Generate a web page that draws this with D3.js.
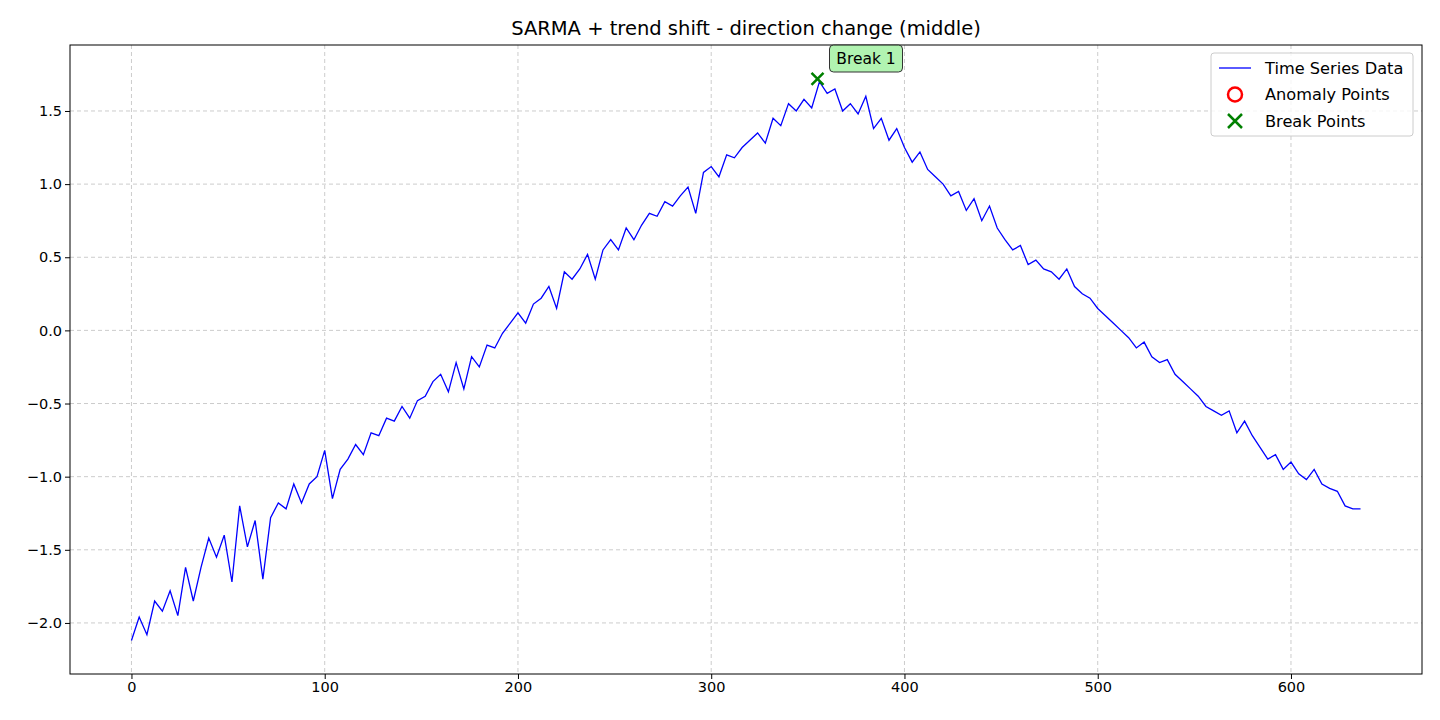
<!DOCTYPE html>
<html><head><meta charset="utf-8">
<script src="https://cdn.jsdelivr.net/npm/d3@7"></script>
<style>body{margin:0;background:#fff;font-family:"DejaVu Sans",sans-serif}</style>
</head><body><svg id="c" width="1440" height="720"></svg>
<script>
const step = 4;
const values = [-2.12,-1.96,-2.08,-1.85,-1.92,-1.78,-1.95,-1.62,-1.85,-1.62,-1.42,-1.55,-1.40,-1.72,-1.20,-1.48,
 -1.30,-1.70,-1.28,-1.18,-1.22,-1.05,-1.18,-1.05,-1.00,-0.82,-1.15,-0.95,-0.88,-0.78,-0.85,-0.70,
 -0.72,-0.60,-0.62,-0.52,-0.60,-0.48,-0.45,-0.35,-0.30,-0.42,-0.22,-0.40,-0.18,-0.25,-0.10,-0.12,
 -0.02,0.05,0.12,0.05,0.18,0.22,0.30,0.15,0.40,0.35,0.42,0.52,0.35,0.55,0.62,0.55,
 0.70,0.62,0.72,0.80,0.78,0.88,0.85,0.92,0.98,0.80,1.08,1.12,1.05,1.20,1.18,1.25,
 1.30,1.35,1.28,1.45,1.40,1.55,1.50,1.58,1.52,1.70,1.62,1.65,1.50,1.55,1.48,1.60,
 1.38,1.45,1.30,1.38,1.25,1.15,1.22,1.10,1.05,1.00,0.92,0.95,0.82,0.90,0.75,0.85,
 0.70,0.62,0.55,0.58,0.45,0.48,0.42,0.40,0.35,0.42,0.30,0.25,0.22,0.15,0.10,0.05,
 0.00,-0.05,-0.12,-0.08,-0.18,-0.22,-0.20,-0.30,-0.35,-0.40,-0.45,-0.52,-0.55,-0.58,-0.55,-0.70,
 -0.62,-0.72,-0.80,-0.88,-0.85,-0.95,-0.90,-0.98,-1.02,-0.95,-1.05,-1.08,-1.10,-1.20,-1.22,-1.22];
const breaks = [{x: 355, y: 1.72, label: "Break 1"}];
const xTicks = [0,100,200,300,400,500,600];
const yTicks = [-2.0,-1.5,-1.0,-0.5,0.0,0.5,1.0,1.5];
const legendItems = ["Time Series Data","Anomaly Points","Break Points"];

const svg = d3.select("#c");
const L=70,R=1422,T=45,B=674;
const x = d3.scaleLinear().domain([-31.8,667.8]).range([L,R]);
const y = d3.scaleLinear().domain([-2.349,1.951]).range([B,T]);
const data = values.map((v,i)=>({x:i*step,y:v}));

const grid = svg.append("g").attr("stroke","#ccc").attr("stroke-dasharray","4,3");
xTicks.forEach(t=>grid.append("line").attr("x1",x(t)).attr("x2",x(t)).attr("y1",T).attr("y2",B));
yTicks.forEach(t=>grid.append("line").attr("y1",y(t)).attr("y2",y(t)).attr("x1",L).attr("x2",R));

svg.append("path").datum(data).attr("fill","none").attr("stroke","#0000ff").attr("stroke-width",1.3)
  .attr("d",d3.line().x(d=>x(d.x)).y(d=>y(d.y)));

const fmt = d=>d3.format(".1f")(d).replace("-","\u2212");
svg.append("g").attr("transform",`translate(0,${B})`).call(d3.axisBottom(x).tickValues(xTicks).tickSize(5).tickSizeOuter(0))
  .call(g=>{g.selectAll("text").attr("font-size",14.5).attr("font-family","DejaVu Sans").attr("fill","#000");g.select(".domain").remove();});
svg.append("g").attr("transform",`translate(${L},0)`).call(d3.axisLeft(y).tickValues(yTicks).tickFormat(fmt).tickSize(5).tickSizeOuter(0))
  .call(g=>{g.selectAll("text").attr("font-size",14.5).attr("font-family","DejaVu Sans").attr("fill","#000");g.select(".domain").remove();});
svg.append("rect").attr("x",L).attr("y",T).attr("width",R-L).attr("height",B-T).attr("fill","none").attr("stroke","#000").attr("stroke-width",1);

// break markers
const cross=(g,cx,cy,s)=>{g.append("path").attr("d",`M${cx-s},${cy-s}L${cx+s},${cy+s}M${cx-s},${cy+s}L${cx+s},${cy-s}`).attr("stroke","green").attr("stroke-width",2.5);};
breaks.forEach(b=>{
  cross(svg,x(b.x),y(b.y),6);
  const bx=x(b.x)+12, by=45;
  svg.append("rect").attr("x",bx).attr("y",by).attr("width",73).attr("height",27).attr("rx",4)
    .attr("fill","#90ee90").attr("fill-opacity",0.7).attr("stroke","#333");
  svg.append("text").attr("x",bx+36.5).attr("y",by+19).attr("text-anchor","middle").attr("font-size",15.5).text(b.label);
});

svg.append("text").attr("x",(L+R)/2).attr("y",35).attr("text-anchor","middle").attr("font-size",19.5).text("SARMA + trend shift - direction change (middle)");

// legend
const lg = svg.append("g").attr("transform","translate(1211,53)");
lg.append("rect").attr("width",202).attr("height",83).attr("rx",3).attr("fill","#fff").attr("fill-opacity",0.8).attr("stroke","#ccc");
legendItems.forEach((t,i)=>{
  const cy=15+i*26.5;
  lg.append("text").attr("x",54).attr("y",cy+5.5).attr("font-size",16.2).text(t);
  if(i===0) lg.append("line").attr("x1",8).attr("x2",40).attr("y1",cy).attr("y2",cy).attr("stroke","#0000ff").attr("stroke-width",1.3);
  if(i===1) lg.append("circle").attr("cx",24).attr("cy",cy).attr("r",7).attr("fill","none").attr("stroke","red").attr("stroke-width",2.5);
  if(i===2) cross(lg,24,cy,7);
});
</script></body></html>
